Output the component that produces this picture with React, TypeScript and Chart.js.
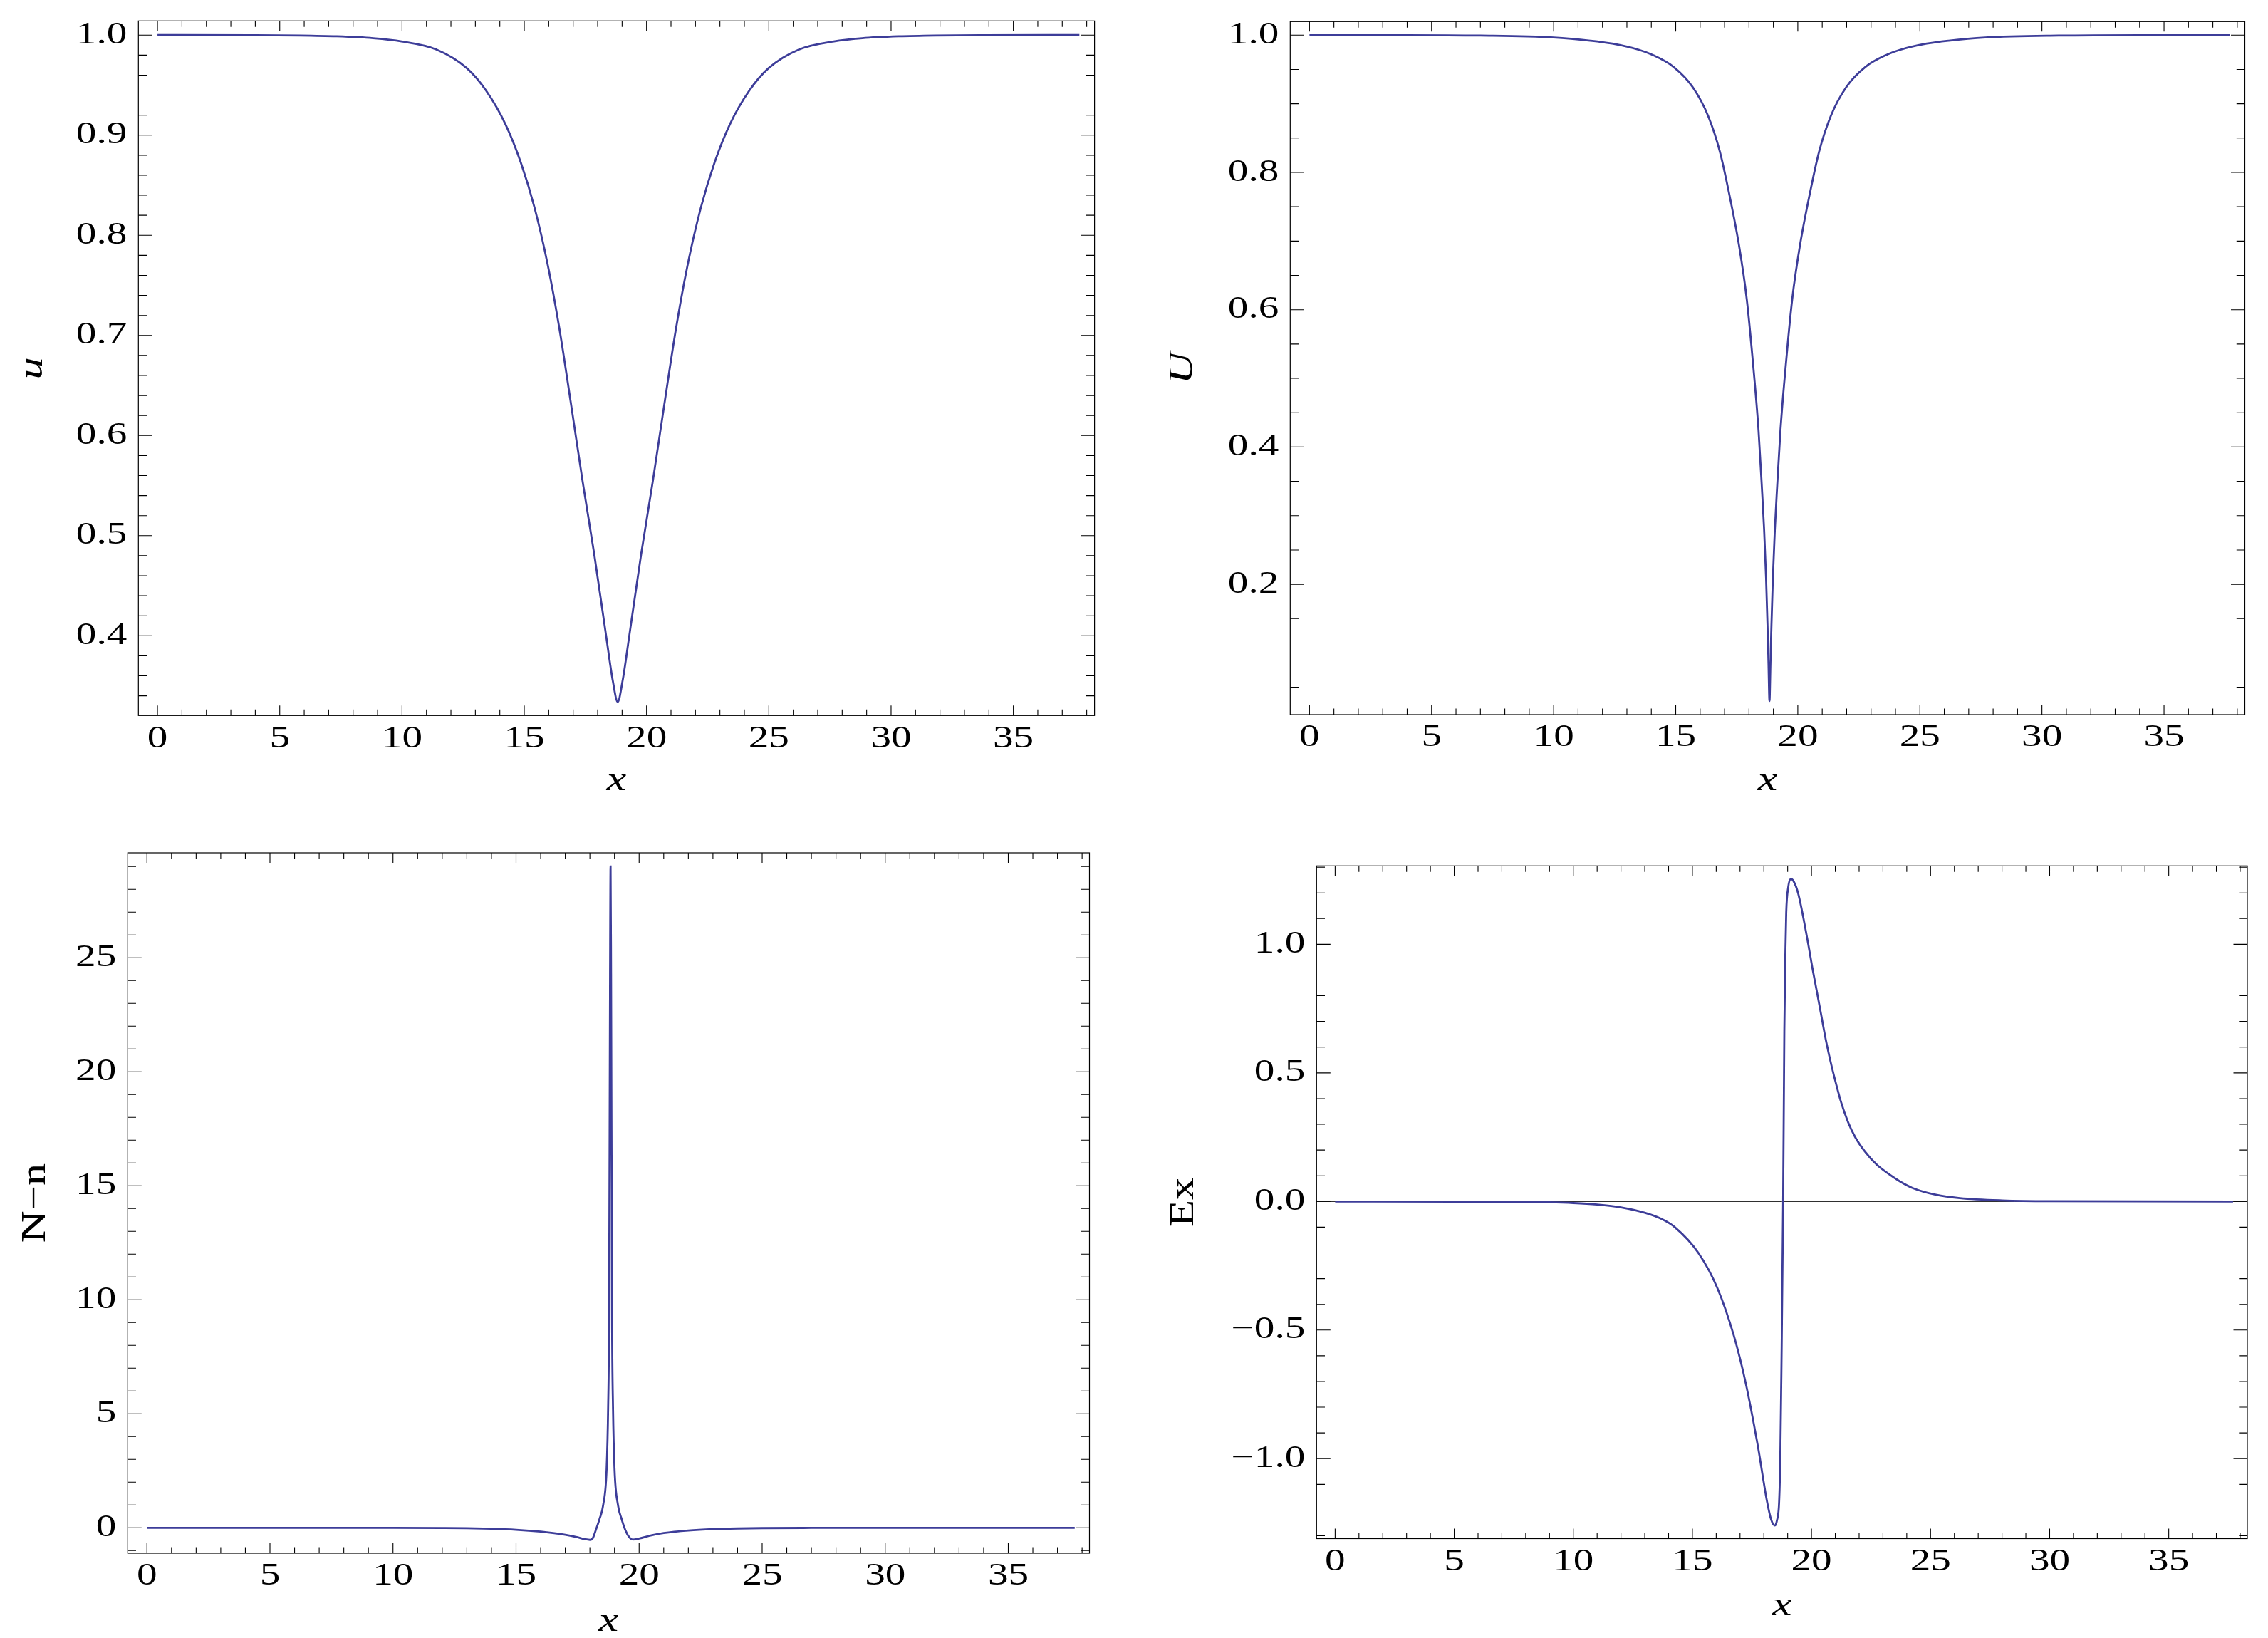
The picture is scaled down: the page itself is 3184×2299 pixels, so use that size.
import React, { useEffect, useRef } from 'react';
import { Chart, registerables } from 'chart.js';

Chart.register(...registerables);

const LINE_COLOR = 'rgb(61,61,153)';
const FONT = "'Liberation Serif', 'Times New Roman', serif";
const TEXT_STRETCH = 1.3;

// ---- Panel 1: u(x)
const U1_X = [0, 3.82, 5.82, 7.32, 8.82, 9.98, 11.39, 12.65, 13.44, 14.23, 14.86, 15.42, 15.97, 16.44, 16.92, 17.39, 17.86, 18.34, 18.62, 18.82, 19.02, 19.3, 19.78, 20.25, 20.72, 21.2, 21.67, 22.22, 22.78, 23.41, 24.2, 24.99, 26.25, 27.66, 28.82, 30.32, 31.82, 33.82, 37.7];
const U1_Y = [1.0, 0.9999, 0.9996, 0.9988, 0.9969, 0.9937, 0.9858, 0.967, 0.9445, 0.911, 0.8726, 0.8276, 0.7693, 0.7063, 0.630, 0.5535, 0.4816, 0.401, 0.355, 0.334, 0.355, 0.401, 0.4816, 0.5535, 0.630, 0.7063, 0.7693, 0.8276, 0.8726, 0.911, 0.9445, 0.967, 0.9858, 0.9937, 0.9969, 0.9988, 0.9996, 0.9999, 1.0];

// ---- Panel 2: U(x)
const U2_X = [0, 4, 7, 10, 11.5, 12.4, 13.5, 14.0, 14.9, 15.7, 16.33, 16.81, 17.2, 17.6, 17.91, 18.15, 18.39, 18.53, 18.62, 18.70, 18.76, 18.80, 18.84, 18.88, 18.92, 18.98, 19.06, 19.15, 19.29, 19.53, 19.77, 20.08, 20.48, 20.87, 21.35, 21.98, 22.78, 23.68, 24.18, 25.28, 26.18, 27.68, 30.68, 34, 37.7];
const U2_Y = [1.0, 1.0, 0.9993, 0.9965, 0.9919, 0.9876, 0.9785, 0.972, 0.954, 0.924, 0.882, 0.830, 0.767, 0.692, 0.615, 0.528, 0.425, 0.34, 0.28, 0.21, 0.14, 0.085, 0.03, 0.085, 0.14, 0.21, 0.28, 0.34, 0.425, 0.528, 0.615, 0.692, 0.767, 0.830, 0.882, 0.924, 0.954, 0.972, 0.9785, 0.9876, 0.9919, 0.9965, 0.9993, 1.0, 1.0];

// ---- Panel 3: N - n
const NN_X = [0, 5, 10, 12, 13, 14, 15, 16, 16.5, 17, 17.5, 17.8, 18.0, 18.12, 18.24, 18.39, 18.54, 18.68, 18.74, 18.78, 18.82, 18.84, 18.86, 18.9, 18.94, 19.0, 19.14, 19.29, 19.44, 19.6, 19.74, 20.0, 20.5, 21, 22, 23, 24, 25, 27, 30, 37.7];
const NN_Y = [0, 0, -0.002, -0.01, -0.02, -0.045, -0.09, -0.17, -0.23, -0.31, -0.42, -0.5, -0.53, -0.45, -0.1, 0.38, 1.0, 2.6, 5.2, 9.4, 24.3, 29.0, 24.3, 9.4, 5.2, 2.6, 1.0, 0.38, -0.1, -0.42, -0.52, -0.47, -0.33, -0.23, -0.12, -0.06, -0.03, -0.015, -0.005, 0, 0];

// ---- Panel 4: Ex
const EX_X = [0, 5, 8, 9, 10, 11, 12, 13, 13.7, 14.26, 15.25, 16.05, 16.74, 17.24, 17.74, 18.14, 18.3, 18.46, 18.55, 18.64, 18.69, 18.74, 18.81, 18.86, 18.9, 18.94, 19.02, 19.14, 19.25, 19.44, 19.84, 20.03, 20.23, 20.43, 20.63, 20.83, 21.03, 21.23, 21.53, 21.83, 22.23, 22.73, 23.24, 23.73, 24.23, 25.23, 26.23, 28, 30, 37.7];
const EX_Y = [0, -0.0005, -0.002, -0.003, -0.006, -0.012, -0.023, -0.044, -0.068, -0.1, -0.2, -0.337, -0.522, -0.707, -0.947, -1.17, -1.235, -1.26, -1.24, -1.17, -1.0, -0.633, 0, 0.662, 0.95, 1.125, 1.22, 1.254, 1.245, 1.198, 1.013, 0.912, 0.814, 0.714, 0.616, 0.532, 0.458, 0.39, 0.31, 0.251, 0.196, 0.144, 0.107, 0.077, 0.053, 0.026, 0.013, 0.004, 0.001, 0];

// ---- Tick values
const X_MAJOR = [0, 5, 10, 15, 20, 25, 30, 35];
const P1_Y_MAJOR = [0.4, 0.5, 0.6, 0.7, 0.8, 0.9, 1.0];
const P2_Y_MAJOR = [0.2, 0.4, 0.6, 0.8, 1.0];
const P3_Y_MAJOR = [0, 5, 10, 15, 20, 25];
const P4_Y_MAJOR = [-1.0, -0.5, 0.0, 0.5, 1.0];

function range(from: number, to: number, step: number): number[] {
  const out: number[] = [];
  const n = Math.round((to - from) / step);
  for (let i = 0; i <= n; i++) out.push(Math.round((from + i * step) * 1000) / 1000);
  return out;
}

const X_ALL = range(0, 38, 1);
const P1_Y_ALL = range(0.34, 1.0, 0.02);
const P2_Y_ALL = range(0.05, 1.0, 0.05);
const P3_Y_ALL = range(-1, 29, 1);
const P4_Y_ALL = range(-1.3, 1.3, 0.1);

const isIn = (arr: number[], v: number) => arr.some((m) => Math.abs(m - v) < 1e-6);

const frameTicksPlugin = {
  id: 'frameTicks',
  beforeDatasetsDraw(chart: any, _args: any, opts: any) {
    if (!opts.zeroAxis) return;
    const { ctx, chartArea } = chart;
    const py = chart.scales.y.getPixelForValue(0);
    ctx.save();
    ctx.strokeStyle = '#000';
    ctx.lineWidth = 1;
    ctx.beginPath();
    ctx.moveTo(chartArea.left, py);
    ctx.lineTo(chartArea.right, py);
    ctx.stroke();
    ctx.restore();
  },
  afterDatasetsDraw(chart: any, _args: any, opts: any) {
    const { ctx, chartArea } = chart;
    const { left, right, top, bottom } = chartArea;
    const xs = chart.scales.x;
    const ys = chart.scales.y;
    ctx.save();
    ctx.strokeStyle = '#000';
    ctx.lineWidth = 1.1;
    ctx.beginPath();
    for (const t of xs.ticks) {
      const px = xs.getPixelForValue(t.value);
      const len = isIn(opts.xMajor, t.value) ? 14 : 8.5;
      ctx.moveTo(px, bottom);
      ctx.lineTo(px, bottom - len);
      ctx.moveTo(px, top);
      ctx.lineTo(px, top + len);
    }
    for (const t of ys.ticks) {
      const py = ys.getPixelForValue(t.value);
      const len = isIn(opts.yMajor, t.value) ? 19.5 : 11.7;
      ctx.moveTo(left, py);
      ctx.lineTo(left + len, py);
      ctx.moveTo(right, py);
      ctx.lineTo(right - len, py);
    }
    ctx.stroke();
    ctx.lineWidth = 1.2;
    ctx.strokeRect(left, top, right - left, bottom - top);
    ctx.restore();
  },
};

type PanelCfg = {
  canvas: { left: number; top: number; w: number; h: number };
  frame: { L: number; T: number; R: number; B: number };
  xMin: number;
  xMax: number;
  yMin: number;
  yMax: number;
  xs: number[];
  ys: number[];
  yAll: number[];
  yMajor: number[];
  yFmt: (v: number) => string;
  yTitle: string;
  yTitleItalic: boolean;
  yTitlePad: number;
  xTitlePad: number;
  zeroAxis: boolean;
};

const PANELS: PanelCfg[] = [
  {
    canvas: { left: 0, top: 0, w: 1580, h: 1150 },
    frame: { L: 194.3, T: 29.3, R: 1536.6, B: 1004.3 },
    xMin: -0.78, xMax: 38.32, yMin: 0.3203, yMax: 1.0142,
    xs: U1_X, ys: U1_Y, yAll: P1_Y_ALL, yMajor: P1_Y_MAJOR,
    yFmt: (v) => v.toFixed(1),
    yTitle: 'u', yTitleItalic: true, yTitlePad: 18, xTitlePad: 25, zeroAxis: false,
  },
  {
    canvas: { left: 1580, top: 0, w: 1604, h: 1150 },
    frame: { L: 1811.3, T: 30.3, R: 3151.5, B: 1003 },
    xMin: -0.79, xMax: 38.31, yMin: 0.0102, yMax: 1.0197,
    xs: U2_X, ys: U2_Y, yAll: P2_Y_ALL, yMajor: P2_Y_MAJOR,
    yFmt: (v) => v.toFixed(1),
    yTitle: 'U', yTitleItalic: true, yTitlePad: 53, xTitlePad: 25, zeroAxis: false,
  },
  {
    canvas: { left: 0, top: 1150, w: 1580, h: 1190 },
    frame: { L: 179.3, T: 1197, R: 1529.5, B: 2180 },
    xMin: -0.78, xMax: 38.3, yMin: -1.116, yMax: 29.6,
    xs: NN_X, ys: NN_Y, yAll: P3_Y_ALL, yMajor: P3_Y_MAJOR,
    yFmt: (v) => String(Math.round(v)),
    yTitle: 'N\u2212n', yTitleItalic: false, yTitlePad: 22, xTitlePad: 35, zeroAxis: false,
  },
  {
    canvas: { left: 1580, top: 1150, w: 1604, h: 1190 },
    frame: { L: 1848.3, T: 1215.3, R: 3155, B: 2159.5 },
    xMin: -0.78, xMax: 38.3, yMin: -1.311, yMax: 1.305,
    xs: EX_X, ys: EX_Y, yAll: P4_Y_ALL, yMajor: P4_Y_MAJOR,
    yFmt: (v) => (v < -1e-9 ? '\u2212' + Math.abs(v).toFixed(1) : Math.abs(v).toFixed(1)),
    yTitle: 'Ex', yTitleItalic: false, yTitlePad: 54, xTitlePad: 57, zeroAxis: true,
  },
];

function stretchText(ctx: any) {
  if (!ctx || ctx.__stretched) return;
  const orig = ctx.fillText.bind(ctx);
  ctx.fillText = (text: string, x: number, y: number) => {
    ctx.save();
    ctx.translate(x, y);
    ctx.scale(TEXT_STRETCH, 1);
    orig(text, 0, 0);
    ctx.restore();
  };
  ctx.__stretched = true;
}

function Panel({ p }: { p: PanelCfg }) {
  const ref = useRef<HTMLCanvasElement | null>(null);
  useEffect(() => {
    if (!ref.current) return;
    stretchText(ref.current.getContext('2d'));
    const c = p.canvas;
    const f = p.frame;
    const yAxisW = f.L - c.left;
    const xAxisH = c.top + c.h - f.B;
    const chart = new Chart(ref.current, {
      type: 'line',
      data: {
        datasets: [
          {
            data: p.xs.map((x, i) => ({ x, y: p.ys[i] })),
            borderColor: LINE_COLOR,
            borderWidth: 2.8,
            pointRadius: 0,
            fill: false,
            cubicInterpolationMode: 'monotone',
          },
        ],
      },
      options: {
        responsive: false,
        maintainAspectRatio: false,
        animation: false,
        devicePixelRatio: 1,
        layout: {
          padding: { left: 0, top: f.T - c.top, right: c.left + c.w - f.R, bottom: 0 },
        },
        plugins: {
          legend: { display: false },
          tooltip: { enabled: false },
          frameTicks: { xMajor: X_MAJOR, yMajor: p.yMajor, zeroAxis: p.zeroAxis },
        } as any,
        scales: {
          x: {
            type: 'linear',
            position: 'bottom',
            min: p.xMin,
            max: p.xMax,
            bounds: 'data',
            grid: { display: false, drawTicks: false },
            border: { display: false },
            ticks: {
              autoSkip: false,
              maxRotation: 0,
              minRotation: 0,
              padding: 6.5,
              color: '#000',
              font: { family: FONT, size: 44 },
              callback: (v: any) => (isIn(X_MAJOR, Number(v)) ? String(Math.round(Number(v))) : ''),
            },
            afterBuildTicks: (s: any) => {
              s.ticks = X_ALL.map((v) => ({ value: v }));
            },
            afterFit: (s: any) => {
              s.height = xAxisH;
              s.paddingLeft = 0;
              s.paddingRight = 0;
              s.paddingTop = 0;
              s.paddingBottom = 0;
            },
            title: {
              display: true,
              text: 'x',
              color: '#000',
              font: { family: FONT, size: 48, style: 'italic' },
              padding: { top: 0, bottom: p.xTitlePad },
            },
          },
          y: {
            type: 'linear',
            position: 'left',
            min: p.yMin,
            max: p.yMax,
            bounds: 'data',
            grid: { display: false, drawTicks: false },
            border: { display: false },
            ticks: {
              autoSkip: false,
              padding: 16,
              color: '#000',
              font: { family: FONT, size: 44 },
              callback: (v: any) => (isIn(p.yMajor, Number(v)) ? p.yFmt(Number(v)) : ''),
            },
            afterBuildTicks: (s: any) => {
              s.ticks = p.yAll.map((v) => ({ value: v }));
            },
            afterFit: (s: any) => {
              s.width = yAxisW;
              s.paddingLeft = 0;
              s.paddingRight = 0;
              s.paddingTop = 0;
              s.paddingBottom = 0;
            },
            title: {
              display: true,
              text: p.yTitle,
              color: '#000',
              font: { family: FONT, size: 48, style: p.yTitleItalic ? 'italic' : 'normal' },
              padding: { top: p.yTitlePad, bottom: 0 },
            },
          },
        },
      } as any,
      plugins: [frameTicksPlugin as any],
    });
    return () => chart.destroy();
  }, [p]);
  return (
    <canvas
      ref={ref}
      width={p.canvas.w}
      height={p.canvas.h}
      style={{ position: 'absolute', left: p.canvas.left, top: p.canvas.top, width: p.canvas.w, height: p.canvas.h }}
    />
  );
}

export default function App() {
  return (
    <div style={{ position: 'absolute', left: 0, top: 0, width: 3184, height: 2299, overflow: 'hidden', background: '#fff' }}>
      {PANELS.map((p, i) => (
        <Panel key={i} p={p} />
      ))}
    </div>
  );
}
